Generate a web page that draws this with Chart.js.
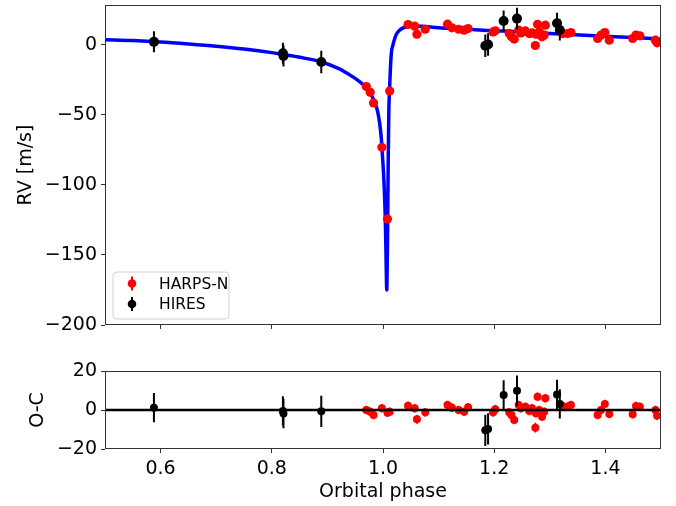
<!DOCTYPE html>
<html>
<head>
<meta charset="utf-8">
<script src="https://cdn.jsdelivr.net/npm/chart.js@4"></script>
<style>
html,body{margin:0;padding:0;background:#fff;}
#wrap{position:relative;width:676px;height:506px;}
#top{position:absolute;left:0;top:0;}
#bot{position:absolute;left:0;top:345px;}
</style>
</head>
<body>
<div id="wrap">
<canvas id="top" width="676" height="345"></canvas>
<canvas id="bot" width="676" height="161"></canvas>
</div>
<script>
// ===== DATOS =====
const xTicks=[0.6,0.8,1.0,1.2,1.4];
const rvTicks=[0,-50,-100,-150,-200];
const ocTicks=[-20,0,20];

// modelo kepleriano
const modelPhase=[0.50,0.55,0.60,0.65,0.70,0.75,0.80,0.82,0.85,0.89,0.91,0.93,0.95,0.96,0.97,0.975,0.98,0.985,0.99,0.994,0.997,0.999,1.001,1.003,1.0045,1.0055,1.0063,1.0068,1.0075,1.0085,1.0095,1.0105,1.0117,1.013,1.015,1.018,1.020,1.024,1.030,1.041,1.050,1.070,1.100,1.150,1.180,1.250,1.300,1.390,1.450,1.500];
const modelRV=[3.6,3.0,2.0,0.6,-1.0,-3.0,-5.6,-6.9,-8.9,-12.3,-15.3,-19,-24,-27,-30.5,-33,-36.5,-41,-47,-56,-67,-79,-92,-110,-130,-152,-170,-175,-160,-125,-78,-47,-33,-20,-6,0,3,7.5,10.5,12.8,13.5,13.3,12.1,11.2,10.4,9.2,8.0,6.2,5.2,4.0];

// HARPS-N
const harpsPhase=[0.970,0.977,0.983,0.998,1.008,1.012,1.045,1.057,1.061,1.076,1.116,1.124,1.136,1.146,1.153,1.198,1.202,1.227,1.231,1.236,1.244,1.248,1.256,1.263,1.268,1.274,1.275,1.278,1.281,1.286,1.290,1.292,1.323,1.332,1.338,1.386,1.392,1.399,1.407,1.449,1.455,1.462,1.490,1.493];
const harpsRV=[-29.8,-33.9,-41.5,-73.2,-124.3,-32.9,14.4,13.3,7.6,11.1,14.7,12.1,11.1,10.4,11.6,9.2,10.0,8.0,5.7,4.1,10.4,8.5,9.9,8.0,8.5,-0.5,7.6,14.6,9.2,5.7,6.9,14.0,8.0,8.0,8.7,4.5,6.9,8.7,3.3,4.5,6.9,6.4,3.3,1.4];
const harpsOC=[0.0,-0.9,-2.6,0.9,-1.4,-0.9,2.2,0.9,-4.8,-1.2,2.6,1.2,0.0,-0.9,1.4,-1.2,0.4,-1.2,-2.6,-5.1,2.6,0.9,1.7,-0.5,0.9,-9.1,-1.7,6.8,0.0,-3.4,-0.9,6.0,2.0,1.7,2.6,-2.6,0.0,3.1,-2.0,-2.2,2.0,1.7,0.0,-2.9];
const harpsErr=[2.2,2.2,2.2,2.2,2.2,2.2,2.2,2.2,2.2,2.2,2.2,2.2,2.2,2.2,2.2,2.2,2.2,2.2,2.2,2.2,2.2,2.2,2.2,2.2,2.2,2.5,2.2,2.2,2.2,2.2,2.2,2.2,2.2,2.2,2.2,2.2,2.2,2.2,2.2,2.2,2.2,2.2,2.2,2.2];

// HIRES
const hiresPhase=[0.588,0.820,0.821,0.889,1.184,1.189,1.217,1.241,1.313,1.318];
const hiresRV=[2.1,-6.0,-8.0,-12.3,-0.7,0.2,17.0,18.7,15.4,10.6];
const hiresOC=[1.2,-0.5,-1.8,-0.7,-10.4,-9.7,7.7,9.9,8.0,3.1];
const hiresErr=[7.5,7.5,7.5,8.0,8.0,8.0,7.5,7.8,7.5,7.5];

const zeroPhase=[0.5,1.5];
const zeroOC=[0,0];

// ===== ESTILO =====
Chart.defaults.font.family="'DejaVu Sans', sans-serif";
Chart.defaults.font.size=19;
Chart.defaults.color="#000";
Chart.defaults.animation=false;

const menos=v=>String(v).replace("-","\u2212");
const pts=(xs,ys)=>xs.map((x,i)=>({x:x,y:ys[i]}));

// barras de error antes de dibujar cada serie
const errorBars={id:"errorBars",
 beforeDatasetDraw(chart,args){
  const ds=chart.data.datasets[args.index];
  if(!ds.errors) return;
  const c=chart.ctx,xs=chart.scales.x,ys=chart.scales.y,a=chart.chartArea;
  c.save();
  c.beginPath();c.rect(a.left,a.top,a.right-a.left,a.bottom-a.top);c.clip();
  c.strokeStyle=ds.backgroundColor;c.lineWidth=ds.errWidth;
  c.beginPath();
  ds.data.forEach((p,i)=>{
   const px=xs.getPixelForValue(p.x);
   c.moveTo(px,ys.getPixelForValue(p.y-ds.errors[i]));
   c.lineTo(px,ys.getPixelForValue(p.y+ds.errors[i]));
  });
  c.stroke();c.restore();
 }};

const marco={id:"marco",
 afterDraw(chart){
  const c=chart.ctx,a=chart.chartArea;
  c.save();c.strokeStyle="#333";c.lineWidth=1;
  c.strokeRect(a.left+0.5,a.top+0.5,a.right-a.left-1,a.bottom-a.top-1);
  c.restore();
 }};

const leyenda={id:"leyenda",
 afterDraw(chart){
  const c=chart.ctx,a=chart.chartArea;
  const x0=a.left+8,y0=a.bottom-53,w=116,h=47,r=4;
  c.save();
  c.beginPath();
  c.moveTo(x0+r,y0);c.arcTo(x0+w,y0,x0+w,y0+h,r);c.arcTo(x0+w,y0+h,x0,y0+h,r);
  c.arcTo(x0,y0+h,x0,y0,r);c.arcTo(x0,y0,x0+w,y0,r);c.closePath();
  c.fillStyle="rgba(255,255,255,0.8)";c.fill();
  c.strokeStyle="#d0d0d0";c.lineWidth=1;c.stroke();
  const items=chart.data.datasets.filter(d=>d.errors).sort((p,q)=>q.order-p.order);
  items.forEach((d,i)=>{
   const cy=y0+11.5+i*20.5,mx=x0+19;
   c.strokeStyle=d.backgroundColor;c.lineWidth=2;
   c.beginPath();c.moveTo(mx,cy-7);c.lineTo(mx,cy+7);c.stroke();
   c.fillStyle=d.backgroundColor;
   c.beginPath();c.arc(mx,cy,4.3,0,Math.PI*2);c.fill();
   c.fillStyle="#000";c.font="15.5px 'DejaVu Sans'";c.textBaseline="middle";
   c.fillText(d.label,x0+46,cy+1);
  });
  c.restore();
 }};

function ejeX(mostrar){
 return {type:"linear",min:0.5,max:1.5,
  afterBuildTicks:s=>{s.ticks=xTicks.map(v=>({value:v}));},
  afterFit:s=>{s.height=mostrar?57:20;s.paddingLeft=0;s.paddingRight=0;},
  grid:{drawOnChartArea:false,drawTicks:true,tickLength:4,tickColor:"#333"},
  border:{display:false},
  ticks:{display:mostrar,padding:5,callback:v=>v.toFixed(1)},
  title:{display:mostrar,text:"Orbital phase",padding:{top:0,bottom:3}}};
}
function ejeY(min,max,ticks,titulo,sep){
 return {type:"linear",min:min,max:max,
  afterBuildTicks:s=>{s.ticks=ticks.map(v=>({value:v}));},
  afterFit:s=>{s.width=105;s.paddingTop=0;s.paddingBottom=0;},
  grid:{drawOnChartArea:false,drawTicks:true,tickLength:4,tickColor:"#333"},
  border:{display:false},
  ticks:{padding:4,callback:v=>menos(v)},
  title:{display:true,text:titulo,padding:{top:sep,bottom:0}}};
}

const comunes={responsive:false,
 plugins:{legend:{display:false},tooltip:{enabled:false}}};

// ===== PANEL RV =====
new Chart(document.getElementById("top"),{
 type:"scatter",
 data:{datasets:[
  {label:"HIRES",data:pts(hiresPhase,hiresRV),errors:hiresErr,errWidth:2,
   backgroundColor:"#000",pointRadius:5,pointBorderWidth:0,order:0},
  {label:"HARPS-N",data:pts(harpsPhase,harpsRV),errors:harpsErr,errWidth:1.8,
   backgroundColor:"#ff0000",pointRadius:4.6,pointBorderWidth:0,order:1},
  {type:"line",label:"model",data:pts(modelPhase,modelRV),borderColor:"#0000ff",
   borderWidth:3.5,pointRadius:0,cubicInterpolationMode:"monotone",fill:false,order:2}
 ]},
 options:{...comunes,layout:{padding:{top:3,right:15,left:0,bottom:0}},
  scales:{x:ejeX(false),y:ejeY(-200,28.4,rvTicks,"RV [m/s]",15)}},
 plugins:[errorBars,marco,leyenda]
});

// ===== PANEL O-C =====
new Chart(document.getElementById("bot"),{
 type:"scatter",
 data:{datasets:[
  {type:"line",label:"cero",data:pts(zeroPhase,zeroOC),borderColor:"#000",
   borderWidth:2.5,pointRadius:0,order:-1},
  {label:"HIRES",data:pts(hiresPhase,hiresOC),errors:hiresErr,errWidth:2,
   backgroundColor:"#000",pointRadius:4,pointBorderWidth:0,order:0},
  {label:"HARPS-N",data:pts(harpsPhase,harpsOC),errors:harpsErr,errWidth:1.8,
   backgroundColor:"#ff0000",pointRadius:4,pointBorderWidth:0,order:1}
 ]},
 options:{...comunes,layout:{padding:{top:26,right:15,left:0,bottom:0}},
  scales:{x:ejeX(true),y:ejeY(-20,20,ocTicks,"O-C",27)}},
 plugins:[errorBars,marco]
});
</script>
</body>
</html>
